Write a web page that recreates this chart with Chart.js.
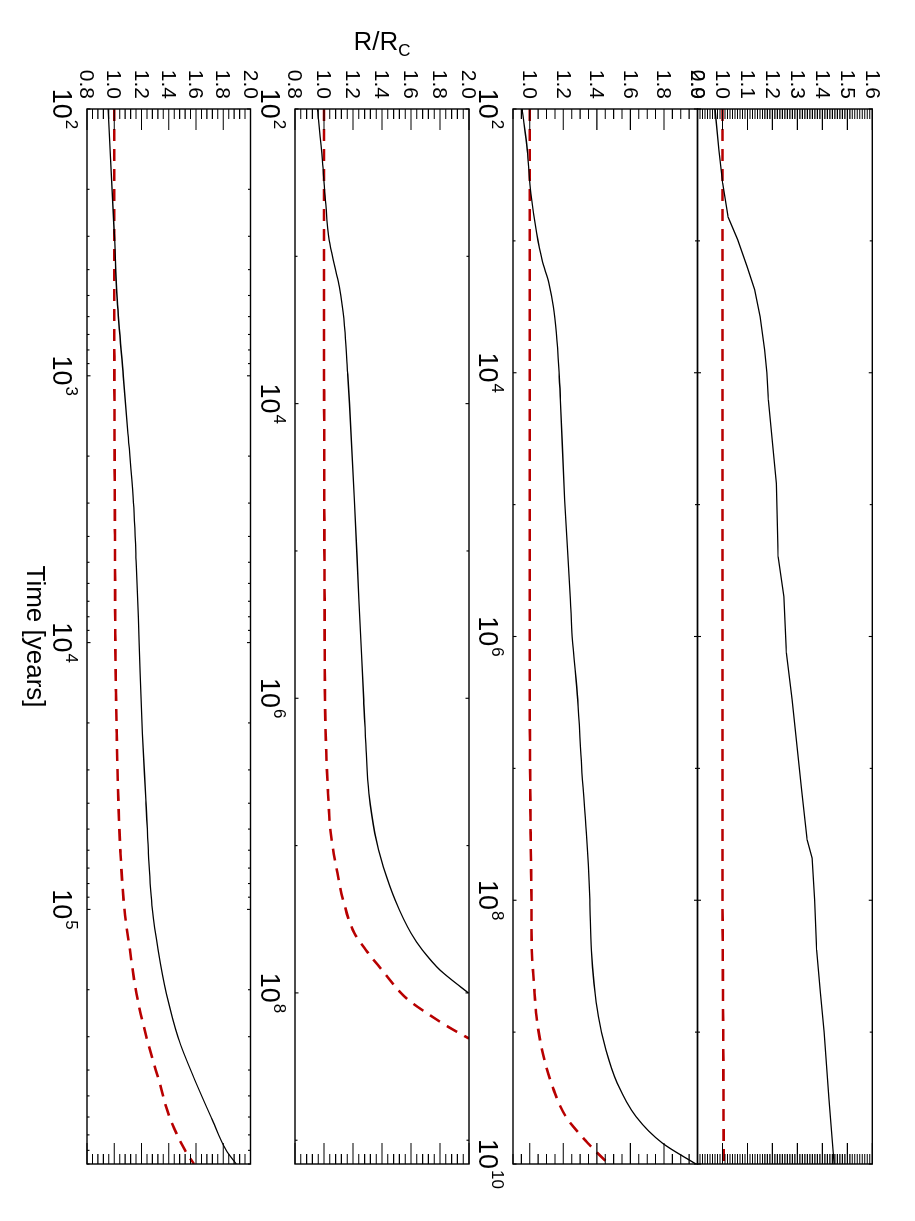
<!DOCTYPE html>
<html>
<head>
<meta charset="utf-8">
<script src="https://cdn.jsdelivr.net/npm/chart.js@4.4.1/dist/chart.umd.min.js"></script>
<style>
  html, body { margin: 0; padding: 0; background: #fff; overflow: hidden; }
  /* the figure is drawn landscape, then turned a quarter clockwise like the original page */
  #page { position: absolute; left: 0; top: 0; width: 1221px; height: 915px;
          transform-origin: 0 0; transform: translateX(915px) rotate(90deg); }
  #page canvas { position: absolute; left: 0; top: 0; }
</style>
</head>
<body>
<div id="page">
  <canvas id="panelA" width="1221" height="915"></canvas>
  <canvas id="panelB" width="1221" height="915"></canvas>
  <canvas id="panelC" width="1221" height="915"></canvas>
  <canvas id="panelD" width="1221" height="915"></canvas>
</div>
<script>
// ---- data (time in years, R/Rc) ----
const timeA = [100, 292, 520, 1000, 1640, 2850, 5210, 10000, 21900, 38900, 60300, 100000,
               142000, 207000, 302000, 449000, 603000, 800000, 900000];
const solidA = [0.955, 1.000, 1.022, 1.066, 1.100, 1.139, 1.163, 1.183, 1.207, 1.232, 1.250, 1.280,
                1.322, 1.383, 1.468, 1.602, 1.712, 1.822, 1.895];
const dashedA = [1.000, 1.000, 1.000, 1.001, 1.002, 1.004, 1.006, 1.008, 1.018, 1.030, 1.045, 1.075,
                 1.115, 1.163, 1.237, 1.334, 1.407, 1.520, 1.585];

const timeB = [100, 222, 415, 774, 1180, 1610, 2200, 3310, 6170, 10000, 45100, 215000,
               1.03e6, 2.25e6, 4.41e6, 8.22e6, 1.40e7, 2.34e7, 3.93e7, 5.13e7, 7.0e7, 1.0e8,
               1.15e8, 1.41e8, 1.70e8, 2.04e8];
const solidB = [0.955, 0.989, 1.010, 1.036, 1.075, 1.106, 1.127, 1.145, 1.163, 1.176, 1.210, 1.241,
                1.274, 1.290, 1.310, 1.350, 1.410, 1.490, 1.600, 1.680, 1.800, 1.995,
                null, null, null, null];
const dashedB = [1.000, 1.000, 1.000, 1.000, 1.000, 1.000, 1.000, 1.000, 1.000, 1.001, 1.002, 1.004,
                 1.007, 1.015, 1.028, 1.046, 1.085, 1.132, 1.210, 1.290, 1.400, 1.530,
                 1.598, 1.728, 1.857, 2.000];

const timeC = [100, 204, 437, 871, 1400, 2090, 3160, 5010, 10000, 16200, 92000, 525000,
               1.0e6, 3.02e6, 9.7e6, 3.09e7, 9.93e7, 2.38e8, 4.27e8, 7.59e8, 1.36e9, 2.43e9,
               4.37e9, 6.92e9, 1.0e10];
const solidC = [0.955, 0.985, 1.007, 1.041, 1.074, 1.114, 1.141, 1.159, 1.175, 1.183, 1.208, 1.242,
                1.253, 1.286, 1.309, 1.338, 1.358, 1.367, 1.383, 1.409, 1.454, 1.521,
                1.633, 1.789, 1.990];
const dashedC = [1.000, 1.000, 1.000, 1.000, 1.000, 1.000, 1.000, 1.000, 1.000, 1.000, 1.000, 1.000,
                 1.000, 1.000, 1.002, 1.005, 1.010, 1.012, 1.025, 1.040, 1.073, 1.128,
                 1.215, 1.345, 1.470];

const timeD = [100, 204, 363, 661, 977, 1570, 2340, 3760, 6710, 10000, 16100, 69200,
               248000, 498000, 1.33e6, 3.02e6, 1.46e7, 3.48e7, 4.79e7, 9.93e7, 2.38e8, 5.01e8,
               1.0e9, 3.16e9, 1.0e10];
const solidD = [0.970, 0.986, 1.001, 1.023, 1.061, 1.099, 1.129, 1.151, 1.169, 1.178, 1.184, 1.216,
                1.223, 1.246, 1.256, 1.279, 1.317, 1.339, 1.359, 1.369, 1.377, 1.392,
                1.407, 1.426, 1.447];
const dashedD = [1.000, 1.000, 1.000, 1.000, 1.000, 1.000, 1.000, 1.000, 1.000, 1.000, 1.000, 1.000,
                 1.000, 1.000, 1.000, 1.000, 1.000, 1.000, 1.000, 1.000, 1.001, 1.002,
                 1.003, 1.004, 1.005];

// tick labels
const yLabelsAB = ['0.8', '1.0', '1.2', '1.4', '1.6', '1.8', '2.0'];
const yLabelsC = ['1.0', '1.2', '1.4', '1.6', '1.8', '2.0'];
const yLabelsD = ['0.9', '1.0', '1.1', '1.2', '1.3', '1.4', '1.5', '1.6'];
const timeExpA = [2, 3, 4, 5];
const timeExpB = [2, 4, 6, 8];
const timeExpCD = [2, 4, 6, 8, 10];

const FONT = '"Liberation Sans", Arial, Helvetica, sans-serif';
const RED = '#b80000';

// IDL style box: inward ticks on all four sides, labels outside
const idlAxes = {
    id: 'idlAxes',
    afterDatasetsDraw(chart, args, o) {
        const ctx = chart.ctx;
        const a = chart.chartArea;
        const xs = chart.scales.x, ys = chart.scales.y;
        ctx.save();
        ctx.strokeStyle = '#000';
        ctx.fillStyle = '#000';
        ctx.lineWidth = 1.4;
        ctx.strokeRect(a.left, a.top, a.right - a.left, a.bottom - a.top);

        ctx.lineWidth = 1.1;
        ctx.beginPath();
        const xTick = (v, len) => {
            const px = xs.getPixelForValue(v);
            if (px < a.left - 0.5 || px > a.right + 0.5) return;
            ctx.moveTo(px, a.bottom); ctx.lineTo(px, a.bottom - len);
            ctx.moveTo(px, a.top); ctx.lineTo(px, a.top + len);
        };
        const yTick = (v, len) => {
            const py = ys.getPixelForValue(v);
            ctx.moveTo(a.left, py); ctx.lineTo(a.left + len, py);
            ctx.moveTo(a.right, py); ctx.lineTo(a.right - len, py);
        };
        o.timeExp.forEach(e => xTick(Math.pow(10, e), 3.5));
        if (o.decadeMinors) {
            for (let e = 2; e < 7; e++) {
                for (let m = 2; m <= 9; m++) xTick(m * Math.pow(10, e), 2.5);
            }
        } else {
            for (let e = 3; e < 10; e += 2) xTick(Math.pow(10, e), 2.5);
        }
        const yMaj = o.yLabels.map(Number);
        yMaj.forEach(v => yTick(v, 21));
        const n = Math.round((ys.max - ys.min) / o.yMinor);
        for (let i = 0; i <= n; i++) {
            const v = ys.min + i * o.yMinor;
            if (yMaj.some(m => Math.abs(m - v) < 1e-6)) continue;
            yTick(v, 10);
        }
        ctx.stroke();

        // y tick labels
        ctx.font = '21px ' + FONT;
        ctx.textAlign = 'right';
        ctx.textBaseline = 'middle';
        o.yLabels.forEach(t => ctx.fillText(t, a.left - 10, ys.getPixelForValue(Number(t)) + 1));

        // time tick labels 10^n
        if (o.showTime) {
            o.timeExp.forEach(e => {
                const px = xs.getPixelForValue(Math.pow(10, e));
                const base = '10', sup = String(e);
                ctx.font = '27px ' + FONT;
                const wb = ctx.measureText(base).width;
                ctx.font = '17px ' + FONT;
                const ws = ctx.measureText(sup).width;
                const x0 = px - (wb + ws + 1) / 2;
                const y0 = a.bottom + 34;
                ctx.textAlign = 'left';
                ctx.textBaseline = 'alphabetic';
                ctx.font = '27px ' + FONT;
                ctx.fillText(base, x0, y0);
                ctx.font = '17px ' + FONT;
                ctx.fillText(sup, x0 + wb + 1, y0 - 13);
            });
        }

        if (o.titles) {
            ctx.textBaseline = 'alphabetic';
            ctx.font = '26px ' + FONT;
            ctx.textAlign = 'center';
            ctx.fillText('Time [years]', (a.left + a.right) / 2, 888);

            // R/R_C, reading upwards along the left edge
            ctx.save();
            ctx.translate(50, 533);
            ctx.rotate(-Math.PI / 2);
            ctx.font = '26px ' + FONT;
            const w1 = ctx.measureText('R/R').width;
            ctx.font = '17px ' + FONT;
            const w2 = ctx.measureText('C').width;
            const s = -(w1 + w2) / 2;
            ctx.textAlign = 'left';
            ctx.font = '26px ' + FONT;
            ctx.fillText('R/R', s, 0);
            ctx.font = '17px ' + FONT;
            ctx.fillText('C', s + w1, 6);
            ctx.restore();
        }
        ctx.restore();
    }
};

function makePanel(id, times, solid, dashed, box, xMax, yMin, yMax, axes, smooth) {
    const pts = arr => times.map((t, i) => ({ x: t, y: arr[i] }));
    return new Chart(document.getElementById(id), {
        type: 'line',
        data: {
            datasets: [
                {
                    data: pts(solid),
                    borderColor: '#000',
                    borderWidth: 1.3,
                    pointRadius: 0,
                    cubicInterpolationMode: smooth ? 'monotone' : 'default',
                    tension: 0,
                    fill: false
                },
                {
                    data: pts(dashed),
                    borderColor: RED,
                    borderWidth: 2.6,
                    borderDash: [12, 8],
                    pointRadius: 0,
                    cubicInterpolationMode: smooth ? 'monotone' : 'default',
                    tension: 0,
                    fill: false
                }
            ]
        },
        options: {
            responsive: false,
            animation: false,
            events: [],
            layout: {
                padding: { left: 109, right: 1221 - 1164, top: box[0], bottom: 915 - box[1] }
            },
            plugins: {
                legend: { display: false },
                tooltip: { enabled: false },
                idlAxes: axes
            },
            scales: {
                x: { type: 'logarithmic', min: 100, max: xMax, display: false },
                y: { type: 'linear', min: yMin, max: yMax, display: false }
            }
        },
        plugins: [idlAxes]
    });
}

makePanel('panelA', timeA, solidA, dashedA, [664.5, 828], 9.0e5, 0.8, 2.0,
    { yLabels: yLabelsAB, yMinor: 0.04, timeExp: timeExpA, decadeMinors: true, showTime: true, titles: true }, true);
makePanel('panelB', timeB, solidB, dashedB, [446, 620], 1.45e9, 0.8, 2.0,
    { yLabels: yLabelsAB, yMinor: 0.04, timeExp: timeExpB, decadeMinors: false, showTime: true }, true);
makePanel('panelC', timeC, solidC, dashedC, [217.5, 402], 1.0e10, 0.9, 2.0,
    { yLabels: yLabelsC, yMinor: 0.05, timeExp: timeExpCD, decadeMinors: false, showTime: true }, true);
makePanel('panelD', timeD, solidD, dashedD, [42.7, 217.5], 1.0e10, 0.9, 1.6,
    { yLabels: yLabelsD, yMinor: 0.01, timeExp: timeExpCD, decadeMinors: false, showTime: false }, false);
</script>
</body>
</html>
